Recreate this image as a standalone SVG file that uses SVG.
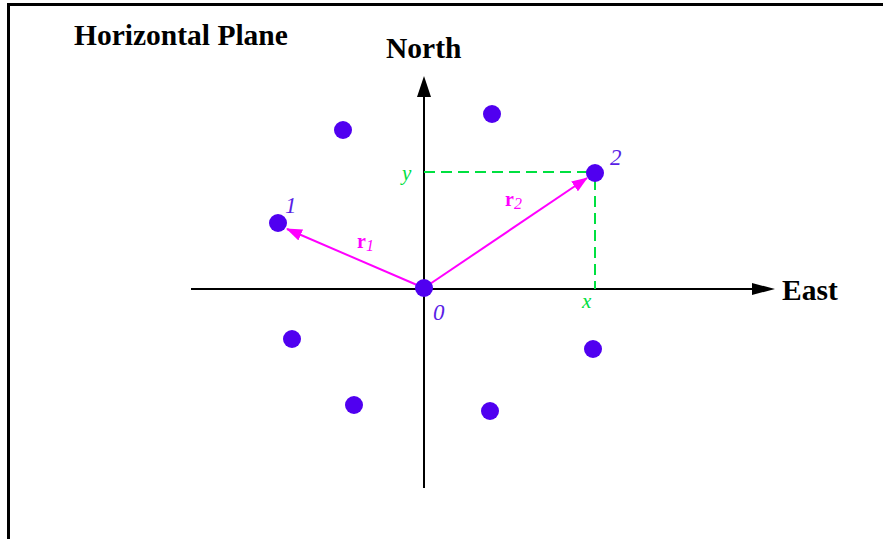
<svg xmlns="http://www.w3.org/2000/svg" width="883" height="539" viewBox="0 0 883 539">
<defs>
<style>
.ax{stroke:#000;stroke-width:2;fill:none}
.dash{stroke:#00e040;stroke-width:2;stroke-dasharray:11,6;fill:none}
.vec{stroke:#ff00ff;stroke-width:2;fill:none}
.dot{fill:#5000f0}
text{font-family:'Liberation Serif','Times New Roman','DejaVu Serif',serif}
.title{font-weight:bold;font-size:29.5px;fill:#000}
.num{font-style:italic;font-size:23px;fill:#5a1ee6}
.g{font-style:italic;font-size:21px;fill:#00e040}
.r{font-weight:bold;font-size:20px;fill:#ff00ff}
</style>
<marker id="mh" markerWidth="16" markerHeight="12" refX="15" refY="6" orient="auto" markerUnits="userSpaceOnUse"><path d="M0,0 L16,6 L0,12 Z" fill="#ff00ff"/></marker>
</defs>
<rect width="883" height="539" fill="#fff"/>
<path d="M8.5,539 V4.5 H883" stroke="#000" stroke-width="3" fill="none"/>
<text class="title" x="74" y="45">Horizontal Plane</text>
<g id="connectors">
<line class="ax" x1="191" y1="289" x2="754" y2="289"/>
<path d="M752,283 L775,289 L752,295 Z" fill="#000"/>
<line class="ax" x1="424" y1="488" x2="424" y2="96"/>
<path d="M417,97 L424,76 L431,97 Z" fill="#000"/>
<polyline class="dash" points="424,172 595,172"/>
<polyline class="dash" points="595,179 595,289"/>
<line class="vec" x1="424" y1="288" x2="287" y2="229" marker-end="url(#mh)"/>
<line class="vec" x1="424" y1="288" x2="587" y2="178" marker-end="url(#mh)"/>
</g>
<text class="title" x="386" y="58">North</text>
<text class="title" x="782" y="300">East</text>
<text class="g" x="402" y="180">y</text>
<text class="g" x="582" y="308">x</text>
<text class="r" x="357" y="248">r<tspan font-style="italic" font-weight="normal" font-size="16" dy="3">1</tspan></text>
<text class="r" x="505" y="206">r<tspan font-style="italic" font-weight="normal" font-size="16" dy="3">2</tspan></text>
<g id="n0"><circle class="dot" cx="424" cy="288" r="9"/><text class="num" x="433" y="320">0</text></g>
<g id="n1"><circle class="dot" cx="278" cy="223" r="9"/><text class="num" x="285" y="213">1</text></g>
<g id="n2"><circle class="dot" cx="595" cy="173" r="9"/><text class="num" x="610" y="165">2</text></g>
<g id="p3"><circle class="dot" cx="343" cy="130" r="9"/></g>
<g id="p4"><circle class="dot" cx="492" cy="114" r="9"/></g>
<g id="p5"><circle class="dot" cx="292" cy="339" r="9"/></g>
<g id="p6"><circle class="dot" cx="354" cy="405" r="9"/></g>
<g id="p7"><circle class="dot" cx="593" cy="349" r="9"/></g>
<g id="p8"><circle class="dot" cx="490" cy="411" r="9"/></g>
</svg>
